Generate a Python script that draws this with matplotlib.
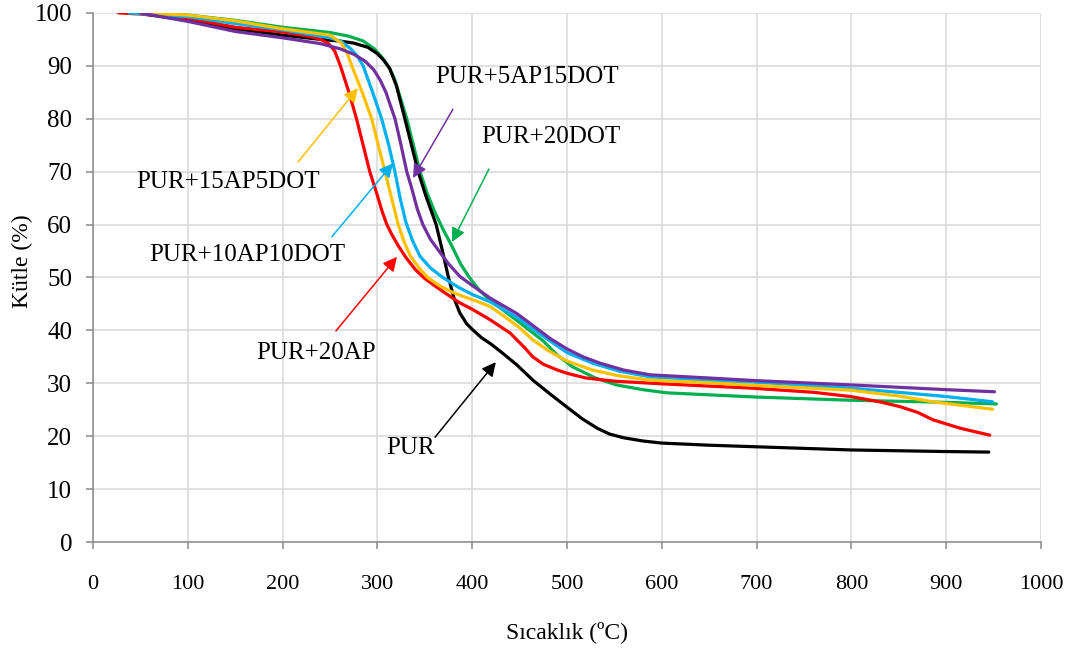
import matplotlib
matplotlib.use("Agg")
import matplotlib.pyplot as plt

plt.rcParams['font.family'] = ['Liberation Serif', 'DejaVu Serif']

# TGA curves
pur_x = [45, 100, 150, 200, 240, 260, 275, 290, 300, 307, 313, 320, 329, 336, 343, 351, 357, 362,
         368, 375, 381, 387, 394, 400, 410, 420, 430, 447, 464, 482, 500, 516, 532, 545, 560, 580,
         600, 650, 700, 800, 900, 945]
pur_y = [100, 98.6, 97.0, 95.8, 95.0, 94.7, 94.3, 93.5, 92.3, 91.0, 89.5, 86.3, 80.0, 75.0, 70.0, 65.5, 62.5, 60.0,
         55.5, 50.0, 46.0, 43.3, 41.3, 40.2, 38.6, 37.4, 36.0, 33.5, 30.6, 28.0, 25.5, 23.3, 21.5, 20.4, 19.7, 19.1,
         18.7, 18.3, 18.0, 17.4, 17.1, 17.0]

ap20_x = [27, 50, 100, 150, 200, 230, 240, 248, 255, 261, 270, 278, 285, 292, 300, 305, 310, 315, 322,
          330, 340, 350, 360, 372, 387, 400, 419, 440, 455, 464, 475, 490, 500, 520, 550, 600, 693,
          760, 799, 830, 851, 870, 886, 915, 946]
ap20_y = [100, 99.8, 99.0, 97.3, 96.4, 95.5, 95.0, 94.3, 92.8, 90.0, 85.0, 80.0, 75.0, 70.0, 65.5, 62.5, 60.0, 58.2, 56.0,
          53.8, 51.5, 49.8, 48.5, 47.0, 45.2, 44.0, 42.0, 39.5, 36.8, 35.0, 33.6, 32.5, 31.9, 31.0, 30.4, 29.9, 29.1,
          28.3, 27.5, 26.5, 25.6, 24.5, 23.1, 21.5, 20.2]

ap15_x = [50, 100, 150, 200, 250, 262, 268, 273, 284, 294, 301, 308, 315, 322, 328, 335, 344, 353,
          365, 378, 391, 405, 419, 435, 450, 464, 480, 500, 527, 555, 588, 650, 700, 799, 850, 886, 949]
ap15_y = [100, 99.6, 98.5, 97.0, 95.8, 94.3, 92.5, 90.0, 85.0, 80.0, 75.0, 70.0, 65.0, 60.0, 56.8, 54.0, 51.8, 50.0,
          48.5, 47.3, 46.4, 45.5, 44.5, 42.5, 40.5, 38.2, 36.2, 34.2, 32.5, 31.4, 30.6, 30.1, 29.6, 28.7, 27.6, 26.5, 25.1]

ap10_x = [38, 100, 150, 200, 250, 262, 272, 279, 285, 295, 304.5, 312, 318.5, 324, 330, 337, 345, 356,
          369, 385, 400, 419, 447, 470, 500, 527, 555, 588, 650, 700, 799, 900, 949]
ap10_y = [100, 99.3, 98.0, 96.8, 95.3, 94.6, 93.2, 91.8, 90.0, 85.0, 80.0, 75.0, 70.0, 65.0, 60.5, 57.0, 54.0, 51.8,
          50.0, 48.2, 46.8, 45.4, 42.5, 39.5, 35.8, 33.8, 32.3, 31.2, 30.6, 30.2, 29.1, 27.5, 26.5]

ap5_x = [50, 100, 150, 200, 240, 261, 275, 287, 296, 303, 309, 318.6, 325, 331, 336, 342, 348, 356,
         365, 375, 387, 400, 419, 447, 465, 482, 500, 517, 535, 560, 588, 650, 700, 799, 900, 951]
ap5_y = [100, 98.4, 96.5, 95.3, 94.2, 93.2, 92.2, 90.9, 89.3, 87.3, 85.0, 80.0, 75.0, 70.0, 67.0, 63.0, 60.0, 57.2,
         55.0, 52.6, 50.2, 48.5, 46.1, 43.2, 40.8, 38.5, 36.5, 35.0, 33.8, 32.5, 31.6, 31.0, 30.5, 29.7, 28.8, 28.4]

dot20_x = [50, 100, 150, 200, 250, 270, 285, 297, 305, 312, 318, 325, 331, 338, 345, 352, 360, 369,
           379, 388, 397, 408, 419, 435, 450, 475, 490, 506, 530, 552, 580, 605, 700, 799, 900, 953]
dot20_y = [100, 99.6, 98.6, 97.3, 96.3, 95.6, 94.7, 93.2, 91.6, 89.8, 87.6, 83.5, 80.0, 75.0, 70.0, 66.2, 62.6, 59.2,
           55.8, 52.5, 50.0, 47.5, 45.7, 43.5, 41.5, 38.0, 35.3, 33.1, 31.0, 29.7, 28.8, 28.2, 27.4, 26.8, 26.4, 26.1]

series = [
    ("PUR+20DOT", dot20_x, dot20_y, "#00B050"),
    ("PUR", pur_x, pur_y, "black"),
    ("PUR+20AP", ap20_x, ap20_y, "#FF0000"),
    ("PUR+10AP10DOT", ap10_x, ap10_y, "#00B0F0"),
    ("PUR+15AP5DOT", ap15_x, ap15_y, "#FFC000"),
    ("PUR+5AP15DOT", ap5_x, ap5_y, "#7030A0"),
]

# label text position, arrow tail, arrow tip (data coords)
labels = {
    "PUR+5AP15DOT": ((457.8, 87.9), (379.7, 81.8), (337.6, 68.8)),
    "PUR+20DOT": ((483.0, 76.5), (417.7, 70.5), (378.7, 56.7)),
    "PUR+15AP5DOT": ((142.4, 68.1), (216.2, 71.8), (279.5, 85.8)),
    "PUR+10AP10DOT": ((163.0, 54.3), (252.0, 57.7), (316.5, 71.6)),
    "PUR+20AP": ((235.2, 35.7), (256.3, 39.9), (320.7, 53.9)),
    "PUR": ((335.4, 17.8), (360.8, 19.8), (425.0, 34.0)),
}

fig = plt.figure(figsize=(10.85, 6.57), dpi=100)
ax = fig.add_axes([0.0857, 0.175, 0.8737, 0.8053])

for name, xs, ys, color in series:
    ax.plot(xs, ys, color=color, lw=2.3, solid_capstyle='round', solid_joinstyle='round', zorder=3)

for name, xs, ys, color in series:
    (tx, ty), tail, tip = labels[name]
    ax.text(tx, ty, name, ha='center', va='center', fontsize=18, color='black', zorder=5)
    ax.annotate('', xy=tip, xytext=tail,
                arrowprops=dict(arrowstyle='-|>,head_length=0.6,head_width=0.3', color=color,
                                lw=1.1, mutation_scale=14, shrinkA=0, shrinkB=0),
                zorder=4)

ax.set_xlim(0, 1000)
ax.set_ylim(0, 100)
ax.set_xticks(range(0, 1001, 100))
ax.set_yticks(range(0, 101, 10))
ax.grid(True, color='#D9D9D9', lw=1.1, zorder=0)
ax.set_axisbelow(True)

for side in ['top', 'right']:
    ax.spines[side].set_visible(False)
for side in ['left', 'bottom']:
    ax.spines[side].set_color('#898989')
    ax.spines[side].set_linewidth(1.1)

ax.tick_params(axis='x', direction='out', length=5, width=1.1, color='#898989', labelsize=16, pad=19)
ax.tick_params(axis='y', direction='out', length=5, width=1.1, color='#898989', labelsize=18, pad=10)

ax.set_xlabel('Sıcaklık (ºC)', fontsize=17, labelpad=19)
ax.set_ylabel('Kütle (%)', fontsize=17, labelpad=1, y=0.53)

fig.savefig('out.png', dpi=100)
